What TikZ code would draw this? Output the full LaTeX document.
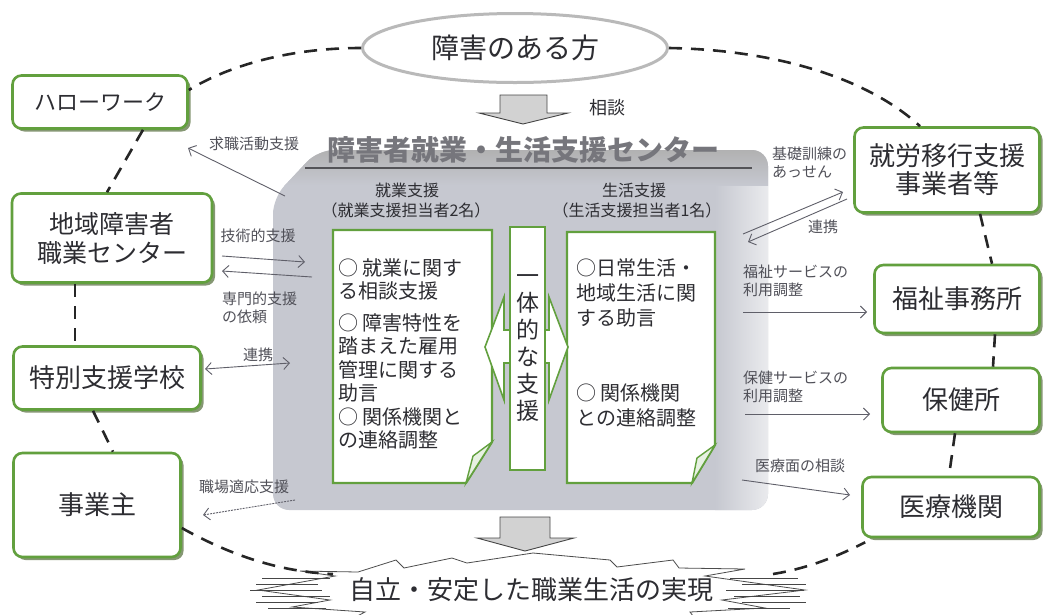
\documentclass[tikz,border=0pt]{standalone}
\usepackage{fontspec}
\setmainfont{Noto Sans CJK JP}
\usetikzlibrary{shadows,arrows.meta,shapes.geometric}
\definecolor{bgreen}{RGB}{98,160,62}
\definecolor{shad}{RGB}{120,140,100}
\definecolor{panelc}{RGB}{198,200,208}
\definecolor{titleg}{RGB}{118,118,124}
\definecolor{txt}{RGB}{45,45,50}
\definecolor{lbl}{RGB}{80,80,88}
\definecolor{arr}{RGB}{95,95,105}
\begin{document}
\begin{tikzpicture}[x=1pt,y=-1pt,
  orgbox/.style={draw=bgreen, line width=2.6pt, fill=white, rounded corners=9pt, align=center, text=txt, inner sep=2pt,
    drop shadow={shadow xshift=3pt, shadow yshift=-3pt, fill=shad, opacity=0.9}},
  dashl/.style={line width=2.6pt, dash pattern=on 13pt off 9pt, black!85},
  lab/.style={font=\fontsize{15}{18}\selectfont, text=lbl, inner sep=0pt, align=left},
  rel/.style={draw=arr, line width=0.9pt, -{Straight Barb[length=6pt,width=12pt]}},
  inbox/.style={draw=bgreen, line width=2.2pt, fill=white},
  gblock/.style={draw=gray!55!black, line width=0.9pt, fill=gray!35},
  sub/.style={font=\fontsize{16}{18}\selectfont, text=txt, inner sep=0pt}
]
\useasboundingbox (0,0) rectangle (1046,614);

% central panel
\begin{scope}
\path[clip, rounded corners=16pt] (273,510) -- (273,198) -- (318,150) -- (768,150) -- (768,510) -- cycle;
\fill[panelc] (260,140) rectangle (780,520);
\shade[left color=panelc, right color=panelc!35!white] (715,140) rectangle (770,520);
\shade[top color=gray!62, bottom color=panelc] (260,148) rectangle (780,185);
\end{scope}
\node[font=\fontsize{28}{30}\selectfont\bfseries, text=titleg, inner sep=0pt] (title) at (523,150) {障害者就業・生活支援センター};
\draw[titleg!70!black, line width=1.3pt] (305,168) -- (752,168);

\node[sub] (h1) at (407,190) {就業支援};
\node[sub] (h1b) at (406,210) {（就業支援担当者2名）};
\node[sub] (h2) at (634,190) {生活支援};
\node[sub] (h2b) at (637,210) {（生活支援担当者1名）};

% inner boxes
\draw[inbox] (333,230) -- (492,230) -- (492,442) -- (466,483) -- (333,483) -- cycle;
\draw[draw=bgreen, line width=1.4pt, fill=bgreen!15] (492,442) -- (473,456) -- (466,483) -- cycle;
\draw[inbox] (567,232) -- (715,232) -- (715,445) -- (692,483) -- (567,483) -- cycle;
\draw[draw=bgreen, line width=1.4pt, fill=bgreen!15] (715,445) -- (697,458) -- (692,483) -- cycle;

\node[anchor=north west, inner sep=0pt, align=left, font=\fontsize{20}{23.5}\selectfont, text=txt] (ltext) at (338,258)
 {○ 就業に関す\\る相談支援\\[8pt]○ 障害特性を\\踏まえた雇用\\管理に関する\\助言\\○ 関係機関と\\の連絡調整};
\node[anchor=north west, inner sep=0pt, align=left, font=\fontsize{20}{25}\selectfont, text=txt] (rtext) at (576,258)
 {○日常生活・\\地域生活に関\\する助言\\[50pt]○ 関係機関\\との連絡調整};

% double arrow and vertical box
\draw[draw=bgreen, line width=1.6pt, fill=white] (485,347) -- (504,297) -- (504,330) -- (549,330) -- (549,297) -- (568,347)
  -- (549,400) -- (549,363) -- (504,363) -- (504,400) -- cycle;
\draw[inbox] (510,227) rectangle (545,470);
\node[align=center, inner sep=0pt, font=\fontsize{23}{27}\selectfont, text=txt] (ittai) at (527.5,347.5) {一\\体\\的\\な\\支\\援};

% top ellipse
\node[ellipse, draw=gray!55, line width=3pt, fill=white, minimum width=305pt, minimum height=69pt,
  font=\fontsize{28}{30}\selectfont, text=txt] (person) at (515,48) {障害のある方};

% organisation boxes
\node[orgbox, minimum width=175pt, minimum height=53pt, font=\fontsize{22}{26}\selectfont] (hello) at (100,102) {ハローワーク};
\node[orgbox, minimum width=200pt, minimum height=89pt, font=\fontsize{25}{29}\selectfont] (chiiki) at (112,238) {地域障害者\\職業センター};
\node[orgbox, minimum width=187pt, minimum height=63pt, font=\fontsize{26}{28}\selectfont] (toku) at (107,378) {特別支援学校};
\node[orgbox, minimum width=167pt, minimum height=104pt, font=\fontsize{26}{28}\selectfont] (jigyo) at (97,505) {事業主};
\node[orgbox, minimum width=185pt, minimum height=85pt, font=\fontsize{26}{28}\selectfont] (shuro) at (947,170) {就労移行支援\\事業者等};
\node[orgbox, minimum width=165pt, minimum height=68pt, font=\fontsize{26}{28}\selectfont] (fuku) at (957,299) {福祉事務所};
\node[orgbox, minimum width=157pt, minimum height=64pt, font=\fontsize{26}{28}\selectfont] (hoken) at (961,400) {保健所};
\node[orgbox, minimum width=177pt, minimum height=60pt, font=\fontsize{26}{28}\selectfont] (iryo) at (951,507) {医療機関};

% gray block arrows
\draw[gblock] (500,95) -- (547,95) -- (547,113) -- (568,113) -- (523,124) -- (479,113) -- (500,113) -- cycle;
\node[font=\fontsize{18}{20}\selectfont, text=txt] (soudan) at (607,108) {相談};
\draw[gblock] (500,517) -- (550,517) -- (550,538) -- (574,538) -- (525,551) -- (477,538) -- (500,538) -- cycle;

% burst
\coordinate (bl) at (333,574);
\coordinate (br) at (773,574);
\draw[draw=gray!60!black, line width=0.8pt, fill=white]
  (258,590) -- (335,576) -- (300,571) -- (358,572) -- (396,560) -- (404,568) -- (452,558) -- (467,563) -- (533,553)
  -- (610,560) -- (617,567) -- (673,560) -- (679,568) -- (745,569) -- (705,576) -- (805,590) -- (722,600)
  -- (765,608) -- (690,612) -- (700,625) -- (340,625) -- (365,612) -- (292,607) -- (330,600) -- cycle;
\foreach \yy/\a/\b in {578/262/330, 584/256/318, 590/250/322, 596/262/330, 602/256/318, 608/268/326}{
  \draw[gray!55!black, line width=0.7pt] (\a,\yy) -- (\b,\yy);}
\foreach \yy/\a/\b in {578/730/798, 584/742/806, 590/726/804, 596/734/800, 602/742/806, 608/728/790}{
  \draw[gray!55!black, line width=0.7pt] (\a,\yy) -- (\b,\yy);}
\node[font=\fontsize{26}{28}\selectfont, text=txt, inner sep=1pt] (goal) at (531,590) {自立・安定した職業生活の実現};

% dashed ring
\draw[dashl] (person.west) .. controls (290,48) and (230,65) .. ([yshift=12pt]hello.east);
\draw[dashl] ([xshift=43pt]hello.south) -- ([xshift=-5pt]chiiki.north);
\draw[dashl] ([xshift=-37pt]chiiki.south) -- ([xshift=-32pt]toku.north);
\draw[dashl] ([xshift=-14pt]toku.south) -- ([xshift=16pt]jigyo.north);
\draw[dashl] ([yshift=-23pt]jigyo.east) .. controls (230,555) and (280,572) .. (bl);
\draw[dashl] (br) .. controls (810,568) and (840,555) .. ([shift={(4pt,-4pt)}]iryo.south west);
\draw[dashl] ([xshift=-6pt]hoken.south) -- ([xshift=-2pt]iryo.north);
\draw[dashl] ([xshift=38pt]fuku.south) -- ([xshift=32pt]hoken.north);
\draw[dashl] ([xshift=33pt]shuro.south) -- ([xshift=35pt]fuku.north);
\draw[dashl] (person.east) .. controls (780,50) and (870,80) .. ([xshift=-27pt]shuro.north);

% relation arrows
\coordinate (a1s) at (285,196); \coordinate (a1e) at (188,148);
\draw[rel] (a1s) -- (a1e);
\node[lab] (l1) at (254,144) {求職活動支援};

\coordinate (a2s) at (222,256); \coordinate (a2e) at (305,262);
\draw[rel] (a2s) -- (a2e);
\node[lab] (l2) at (258,236) {技術的支援};

\coordinate (a3s) at (312,277); \coordinate (a3e) at (222,271);
\draw[rel] (a3s) -- (a3e);
\node[lab, anchor=north west] (l3) at (222,292) {専門的支援\\の依頼};

\coordinate (a4s) at (205,369); \coordinate (a4e) at (290,363);
\draw[rel, {Straight Barb[length=6pt,width=12pt]}-{Straight Barb[length=6pt,width=12pt]}] (a4s) -- (a4e);
\node[lab] (l4) at (258,355) {連携};

\coordinate (a5s) at (295,500); \coordinate (a5e) at (203,515);
\draw[rel, dash pattern=on 2pt off 1pt] (a5s) -- (a5e);
\node[lab] (l5) at (244,487) {職場適応支援};

\coordinate (a6s) at (743,234); \coordinate (a6e) at (843,192);
\draw[rel] (a6s) -- (a6e);
\node[lab, anchor=north west] (l6) at (772,147) {基礎訓練の\\あっせん};

\coordinate (a7s) at (847,199); \coordinate (a7e) at (748,242);
\draw[rel] (a7s) -- (a7e);
\node[lab] (l7) at (823,227) {連携};

\coordinate (a8s) at (743,312); \coordinate (a8e) at (867,312);
\draw[rel] (a8s) -- (a8e);
\node[lab, anchor=north west] (l8) at (743,265) {福祉サービスの\\利用調整};

\coordinate (a9s) at (745,414); \coordinate (a9e) at (870,414);
\draw[rel] (a9s) -- (a9e);
\node[lab, anchor=north west] (l9) at (743,371) {保健サービスの\\利用調整};

\coordinate (a10s) at (742,480); \coordinate (a10e) at (850,495);
\draw[rel] (a10s) -- (a10e);
\node[lab] (l10) at (800,466) {医療面の相談};
\end{tikzpicture}
\end{document}
